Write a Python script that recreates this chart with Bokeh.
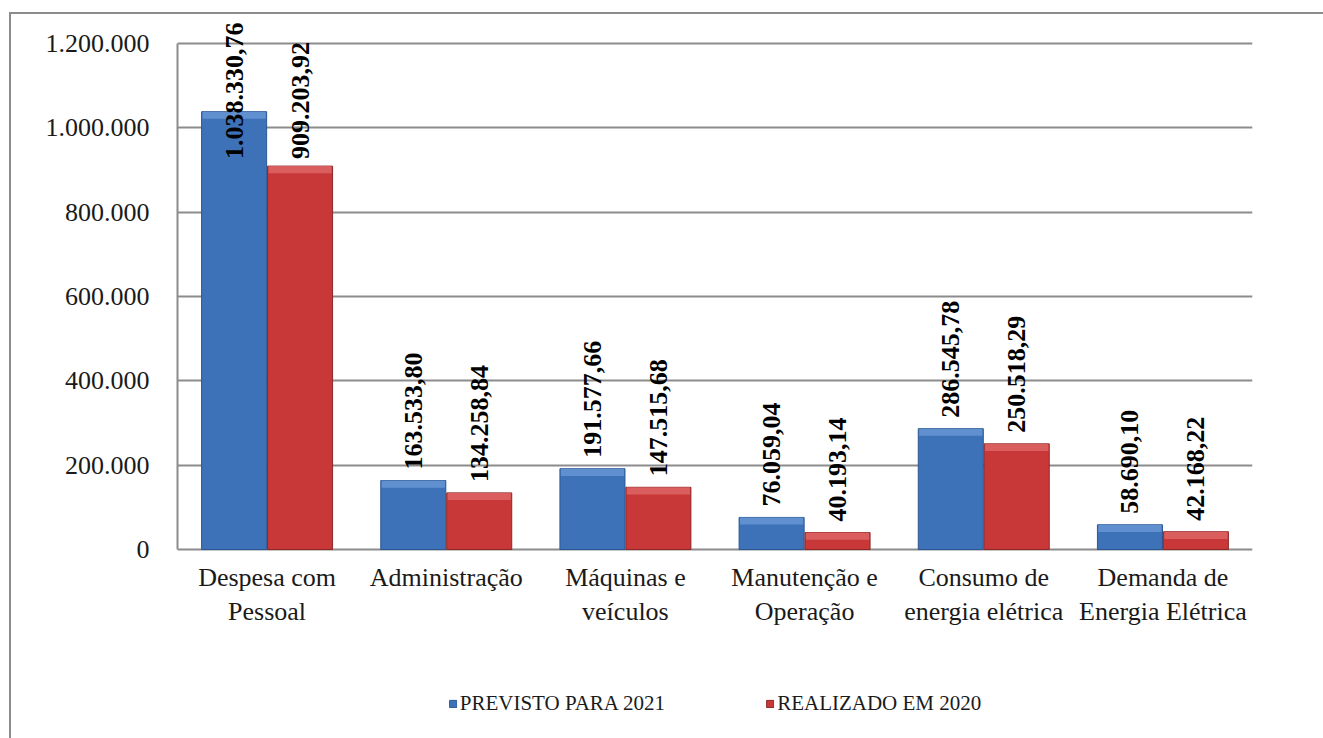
import numpy as np
from bokeh.plotting import figure
from bokeh.models import (ColumnDataSource, FactorRange, Legend, LegendItem,
                          FixedTicker, CustomJSTickFormatter, Range1d)
from bokeh.core.properties import value
from bokeh.transform import dodge
from bokeh.embed import file_html
from bokeh.resources import INLINE

categories = ["Despesa com\nPessoal", "Administração", "Máquinas e\nveículos",
              "Manutenção e\nOperação", "Consumo de\nenergia elétrica",
              "Demanda de\nEnergia Elétrica"]
previsto_2021 = [1038330.76, 163533.80, 191577.66, 76059.04, 286545.78, 58690.10]
realizado_2020 = [909203.92, 134258.84, 147515.68, 40193.14, 250518.29, 42168.22]
previsto_labels = ["1.038.330,76", "163.533,80", "191.577,66", "76.059,04", "286.545,78", "58.690,10"]
realizado_labels = ["909.203,92", "134.258,84", "147.515,68", "40.193,14", "250.518,29", "42.168,22"]
y_ticks = [0, 200000, 400000, 600000, 800000, 1000000, 1200000]
series_names = ["PREVISTO PARA 2021", "REALIZADO EM 2020"]

FONT = "'Liberation Serif', 'Times New Roman', 'DejaVu Serif', serif"
LABEL_CAP = 900000  # labels of taller bars are kept inside the chart area
BEVEL = 17000       # depth of the lighter top edge of each bar (style)

prev_arr = np.array(previsto_2021)
real_arr = np.array(realizado_2020)

src = ColumnDataSource(dict(
    cat=categories,
    zero=[0] * len(categories),
    prev=previsto_2021,
    real=realizado_2020,
    prev_b=list(prev_arr - np.minimum(prev_arr * 0.5, BEVEL)),
    real_b=list(real_arr - np.minimum(real_arr * 0.5, BEVEL)),
    prev_lab=previsto_labels,
    real_lab=realizado_labels,
    prev_ly=list(np.minimum(prev_arr, LABEL_CAP)),
    real_ly=list(np.minimum(real_arr, LABEL_CAP)),
))

p = figure(x_range=FactorRange(factors=categories, range_padding=0),
           y_range=Range1d(-429249, 1268775),
           width=1323, height=738, output_backend="svg", toolbar_location=None,
           min_border_left=177, min_border_right=71, min_border_top=14,
           min_border_bottom=8,
           styles={"box-shadow": "inset 9px 12px 0 #ffffff, inset 11px 14px 0 #8c8c8c"})
p.border_fill_color = None
p.outline_line_color = None
p.background_fill_color = None

bw = 0.363
off = 0.184
r1 = p.vbar(x=dodge("cat", -off, range=p.x_range), top="prev", width=bw, source=src,
            fill_color="#3d71b8", line_color="#2c5791", line_width=1)
r2 = p.vbar(x=dodge("cat", off, range=p.x_range), top="real", width=bw, source=src,
            fill_color="#c83838", line_color="#8e2626", line_width=1)
# lighter top bevel
p.vbar(x=dodge("cat", -off, range=p.x_range), top="prev", bottom="prev_b", width=bw - 0.01,
       source=src, fill_color="#6a98d6", fill_alpha=0.8, line_color=None)
p.vbar(x=dodge("cat", off, range=p.x_range), top="real", bottom="real_b", width=bw - 0.01,
       source=src, fill_color="#e06868", fill_alpha=0.8, line_color=None)

p.text(x=dodge("cat", -off, range=p.x_range), y="prev_ly", text="prev_lab", source=src,
       angle=np.pi / 2, text_align="left", text_baseline="middle",
       y_offset=-11, text_font=value(FONT),
       text_font_size="26px", text_font_style="bold", text_color="#000000")
p.text(x=dodge("cat", off, range=p.x_range), y="real_ly", text="real_lab", source=src,
       angle=np.pi / 2, text_align="left", text_baseline="middle",
       y_offset=-11, text_font=value(FONT),
       text_font_size="26px", text_font_style="bold", text_color="#000000")

# category labels under the baseline
p.text(x="cat", y="zero", text="cat", source=src, text_align="center",
       text_baseline="top", y_offset=13, text_font=value(FONT),
       text_font_size="26px", text_color="#1a1a1a", text_line_height=1.2)

p.yaxis.ticker = FixedTicker(ticks=y_ticks)
p.yaxis.bounds = (0, 1200000)
p.yaxis.formatter = CustomJSTickFormatter(code="""
    return Math.round(tick).toString().replace(/\\B(?=(\\d{3})+(?!\\d))/g, '.');
""")
p.yaxis.major_tick_line_color = None
p.yaxis.minor_tick_line_color = None
p.yaxis.axis_line_color = "#8c8c8c"
p.yaxis.axis_line_width = 2
p.yaxis.major_label_text_font = FONT
p.yaxis.major_label_text_font_size = "26px"
p.yaxis.major_label_text_color = "#1a1a1a"
p.yaxis.major_label_standoff = 22

p.xaxis.visible = False
p.xgrid.grid_line_color = None
p.ygrid.ticker = FixedTicker(ticks=y_ticks)
p.ygrid.bounds = (0, 1200000)
p.ygrid.grid_line_color = "#8c8c8c"
p.ygrid.grid_line_width = 2

legend = Legend(items=[LegendItem(label=series_names[0], renderers=[r1]),
                       LegendItem(label=series_names[1], renderers=[r2])],
                orientation="horizontal", location="bottom_center",
                glyph_width=9, glyph_height=9, label_standoff=3, spacing=100,
                label_text_font=FONT, label_text_font_size="21px",
                label_text_color="#1a1a1a", border_line_color=None,
                background_fill_color=None, margin=14, padding=0)
p.add_layout(legend, "center")

open("out.html", "w").write(file_html(p, INLINE))
